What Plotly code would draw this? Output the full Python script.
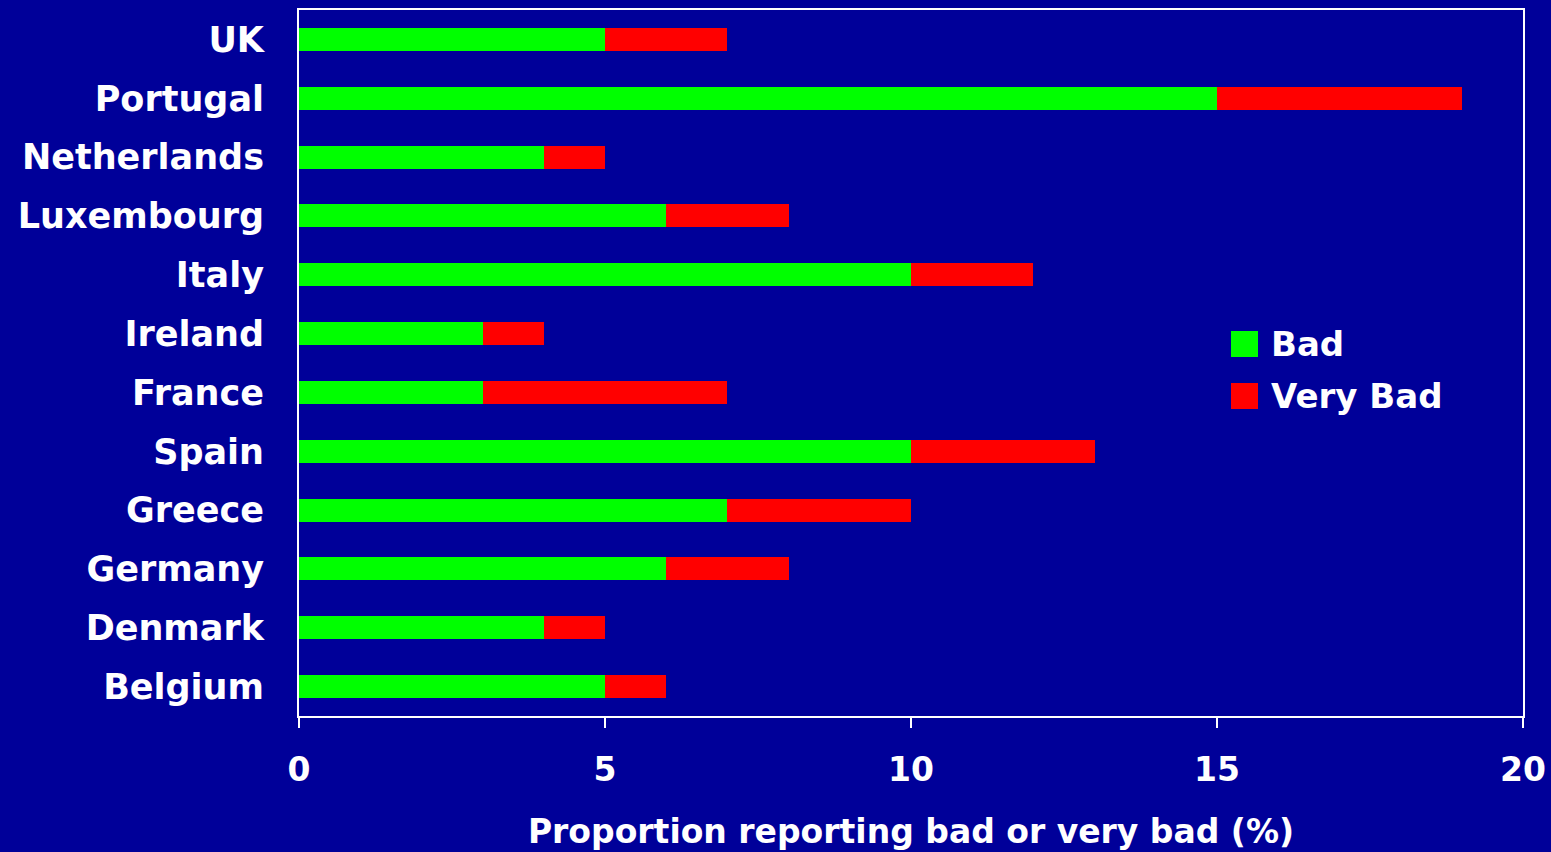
import plotly.graph_objects as go

countries = ["Belgium", "Denmark", "Germany", "Greece", "Spain", "France",
             "Ireland", "Italy", "Luxembourg", "Netherlands", "Portugal", "UK"]
bad = [5, 4, 6, 7, 10, 3, 3, 10, 6, 4, 15, 5]
very_bad = [1, 1, 2, 3, 3, 4, 1, 2, 2, 1, 4, 2]
x_ticks = [0, 5, 10, 15, 20]
series_names = ["Bad", "Very Bad"]
series_colors = ["#00ff00", "#ff0000"]

FONT = "DejaVu Sans, Verdana, sans-serif"
BG = "#000099"

fig = go.Figure()
for name, vals, col in zip(series_names, [bad, very_bad], series_colors):
    fig.add_trace(go.Bar(y=countries, x=vals, orientation="h", name=name,
                         showlegend=False,
                         marker=dict(color=col, line=dict(width=0))))

# Legend drawn as paper-positioned squares and labels (large swatches)
W, H = 1551, 852
L, R, T, B = 299, 28, 10, 136
pw, ph = W - L - R, H - T - B
def px(x): return (x - L) / pw
def py(y): return 1 - (y - T) / ph
leg_y = [344, 396]
for name, col, yc in zip(series_names, series_colors, leg_y):
    fig.add_shape(type="rect", xref="paper", yref="paper",
                  x0=px(1231), x1=px(1258), y0=py(yc + 13), y1=py(yc - 13),
                  fillcolor=col, line=dict(width=0))
    fig.add_annotation(xref="paper", yref="paper", x=px(1269), y=py(yc),
                       xanchor="left", yanchor="middle", showarrow=False,
                       text=name, font=dict(size=34, family=FONT, weight="bold", color="white"))

fig.update_layout(
    barmode="stack",
    bargap=0.61,
    width=W, height=H,
    paper_bgcolor=BG, plot_bgcolor=BG,
    margin=dict(l=L, r=R, t=T, b=B, autoexpand=False),
    font=dict(family=FONT, color="white", size=30),
    showlegend=False,
    xaxis=dict(range=[0, 20], tickvals=x_ticks, showgrid=False, zeroline=False,
               showline=True, linecolor="white", linewidth=2, mirror=True,
               ticks="outside", ticklen=10, tickwidth=2, tickcolor="white",
               ticklabelstandoff=13, automargin=False,
               tickfont=dict(size=33, family=FONT, weight="bold", color="white"),
               title=dict(text="Proportion reporting bad or very bad (%)",
                          font=dict(size=33, family=FONT, weight="bold", color="white"),
                          standoff=32)),
    yaxis=dict(showgrid=False, zeroline=False, showline=True, linecolor="white",
               linewidth=2, mirror=True, ticks="", ticklabelstandoff=26,
               range=[-0.5, 11.5], automargin=False,
               tickfont=dict(size=35, family=FONT, weight="bold", color="white")),
)

fig.write_html("out.html")
